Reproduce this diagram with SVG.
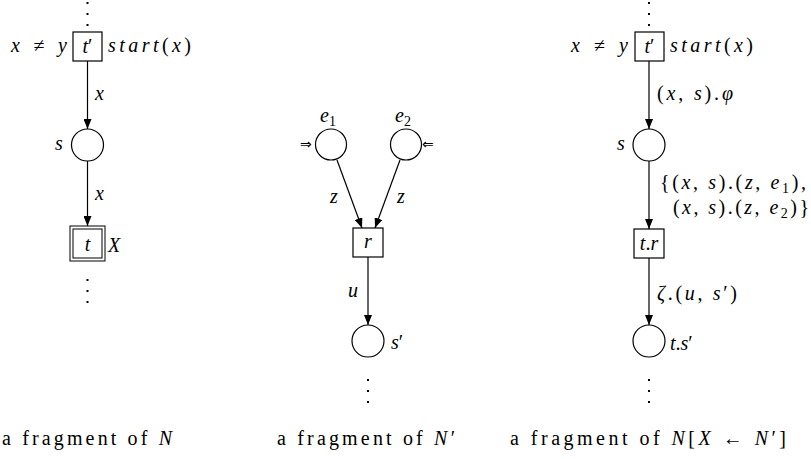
<svg xmlns="http://www.w3.org/2000/svg" width="811" height="459" viewBox="0 0 811 459">
<defs>
<marker id="ah" viewBox="0 0 10 8" refX="10" refY="4" markerWidth="10" markerHeight="8" markerUnits="userSpaceOnUse" orient="auto">
<path d="M0,0 L10,4 L0,8 z" fill="#000"/>
</marker>
</defs>
<rect width="811" height="459" fill="#fff"/>

<g id="connectors" fill="none" stroke="#000" stroke-width="1.2" marker-end="url(#ah)">
<path d="M87.5,61 V129"/>
<path d="M87.5,161 V226"/>
<path d="M337,160 L362,228"/>
<path d="M400,160 L375,228"/>
<path d="M368,257 V325"/>
<path d="M649,61 V129"/>
<path d="M649,161 V229"/>
<path d="M649,258 V325"/>
</g>
<g id="diagram" font-family="Liberation Serif, Times New Roman, serif" font-size="20" fill="#000">
<g id="arc-labels">
<text font-style="italic" x="95" y="100">x</text>
<text font-style="italic" x="95" y="200">x</text>
<text font-style="italic" x="330" y="203">z</text>
<text font-style="italic" x="397" y="203">z</text>
<text font-style="italic" x="348" y="297">u</text>
<text x="657" y="100" textLength="76" lengthAdjust="spacing">(<tspan font-style="italic">x</tspan>, <tspan font-style="italic">s</tspan>).<tspan font-style="italic">φ</tspan></text>
<text x="660" y="189" textLength="146" lengthAdjust="spacing">{(<tspan font-style="italic">x</tspan>, <tspan font-style="italic">s</tspan>).(<tspan font-style="italic">z</tspan>, <tspan font-style="italic">e</tspan><tspan font-size="14" dy="4">1</tspan><tspan dy="-4">),</tspan></text>
<text x="673" y="214" textLength="136" lengthAdjust="spacing">(<tspan font-style="italic">x</tspan>, <tspan font-style="italic">s</tspan>).(<tspan font-style="italic">z</tspan>, <tspan font-style="italic">e</tspan><tspan font-size="14" dy="4">2</tspan><tspan dy="-4">)}</tspan></text>
<text x="657" y="300" textLength="80" lengthAdjust="spacing"><tspan font-style="italic">ζ</tspan>.(<tspan font-style="italic">u</tspan>, <tspan font-style="italic">s</tspan>′)</text>
</g>

<g id="left-dots-top"><rect x="86.5" y="2" width="2" height="2"/><rect x="86.5" y="13" width="2" height="2"/><rect x="86.5" y="24" width="2" height="2"/></g>
<g id="left-tprime">
<rect x="73" y="32" width="29" height="29" fill="#fff" stroke="#000" stroke-width="1.2"/>
<text text-anchor="middle" x="87.5" y="53"><tspan font-style="italic">t</tspan>′</text>
<text x="11" y="52" textLength="56" lengthAdjust="spacing"><tspan font-style="italic">x</tspan> ≠ <tspan font-style="italic">y</tspan></text>
<text x="108" y="52" textLength="83" lengthAdjust="spacing"><tspan font-style="italic">start</tspan>(<tspan font-style="italic">x</tspan>)</text>
</g>
<g id="left-s">
<circle cx="87.5" cy="145" r="16" fill="#fff" stroke="#000" stroke-width="1.2"/>
<text font-style="italic" x="55" y="150">s</text>
</g>
<g id="left-t">
<rect x="70" y="226" width="35" height="35" fill="#fff" stroke="#000" stroke-width="1"/>
<rect x="73" y="229" width="29" height="29" fill="#fff" stroke="#000" stroke-width="1"/>
<text font-style="italic" text-anchor="middle" x="87.5" y="251">t</text>
<text font-style="italic" x="108" y="252">X</text>
</g>
<g id="left-dots-bottom"><rect x="86.5" y="279" width="2" height="2"/><rect x="86.5" y="290" width="2" height="2"/><rect x="86.5" y="301" width="2" height="2"/></g>
<g id="caption-left"><text x="2" y="445" textLength="170" lengthAdjust="spacing">a fragment of <tspan font-style="italic">N</tspan></text></g>

<g id="mid-e1">
<circle cx="331" cy="144.5" r="15.5" fill="#fff" stroke="#000" stroke-width="1.2"/>
<text x="320" y="122"><tspan font-style="italic">e</tspan><tspan font-size="14" dy="4">1</tspan></text>
<text font-family="DejaVu Sans" font-size="14" x="300" y="149">⇒</text>
</g>
<g id="mid-e2">
<circle cx="406" cy="144.5" r="15.5" fill="#fff" stroke="#000" stroke-width="1.2"/>
<text x="395" y="122"><tspan font-style="italic">e</tspan><tspan font-size="14" dy="4">2</tspan></text>
<text font-family="DejaVu Sans" font-size="14" x="422" y="149">⇐</text>
</g>
<g id="mid-r">
<rect x="353" y="228" width="30" height="29" fill="#fff" stroke="#000" stroke-width="1.2"/>
<text font-style="italic" text-anchor="middle" x="368" y="248">r</text>
</g>
<g id="mid-sprime">
<circle cx="368" cy="341" r="16" fill="#fff" stroke="#000" stroke-width="1.2"/>
<text x="391" y="349"><tspan font-style="italic">s</tspan>′</text>
</g>
<g id="mid-dots-bottom"><rect x="367" y="379" width="2" height="2"/><rect x="367" y="390" width="2" height="2"/><rect x="367" y="401" width="2" height="2"/></g>
<g id="caption-mid"><text x="277" y="445" textLength="178" lengthAdjust="spacing">a fragment of <tspan font-style="italic">N</tspan>′</text></g>

<g id="right-dots-top"><rect x="648" y="2" width="2" height="2"/><rect x="648" y="13" width="2" height="2"/><rect x="648" y="24" width="2" height="2"/></g>
<g id="right-tprime">
<rect x="635" y="32" width="29" height="29" fill="#fff" stroke="#000" stroke-width="1.2"/>
<text text-anchor="middle" x="649.5" y="53"><tspan font-style="italic">t</tspan>′</text>
<text x="571" y="52" textLength="57" lengthAdjust="spacing"><tspan font-style="italic">x</tspan> ≠ <tspan font-style="italic">y</tspan></text>
<text x="670" y="52" textLength="83" lengthAdjust="spacing"><tspan font-style="italic">start</tspan>(<tspan font-style="italic">x</tspan>)</text>
</g>
<g id="right-s">
<circle cx="649" cy="145" r="16" fill="#fff" stroke="#000" stroke-width="1.2"/>
<text font-style="italic" x="617" y="150">s</text>
</g>
<g id="right-tr">
<rect x="634" y="229" width="30" height="29" fill="#fff" stroke="#000" stroke-width="1.2"/>
<text text-anchor="middle" x="649" y="250"><tspan font-style="italic">t</tspan>.<tspan font-style="italic">r</tspan></text>
</g>
<g id="right-tsprime">
<circle cx="649" cy="341" r="16" fill="#fff" stroke="#000" stroke-width="1.2"/>
<text x="670" y="350"><tspan font-style="italic">t</tspan>.<tspan font-style="italic">s</tspan>′</text>
</g>
<g id="right-dots-bottom"><rect x="648" y="379" width="2" height="2"/><rect x="648" y="390" width="2" height="2"/><rect x="648" y="401" width="2" height="2"/></g>
<g id="caption-right"><text x="510" y="445" textLength="276" lengthAdjust="spacing">a fragment of <tspan font-style="italic">N</tspan>[<tspan font-style="italic">X</tspan> ← <tspan font-style="italic">N</tspan>′]</text></g>
</g>
</svg>
